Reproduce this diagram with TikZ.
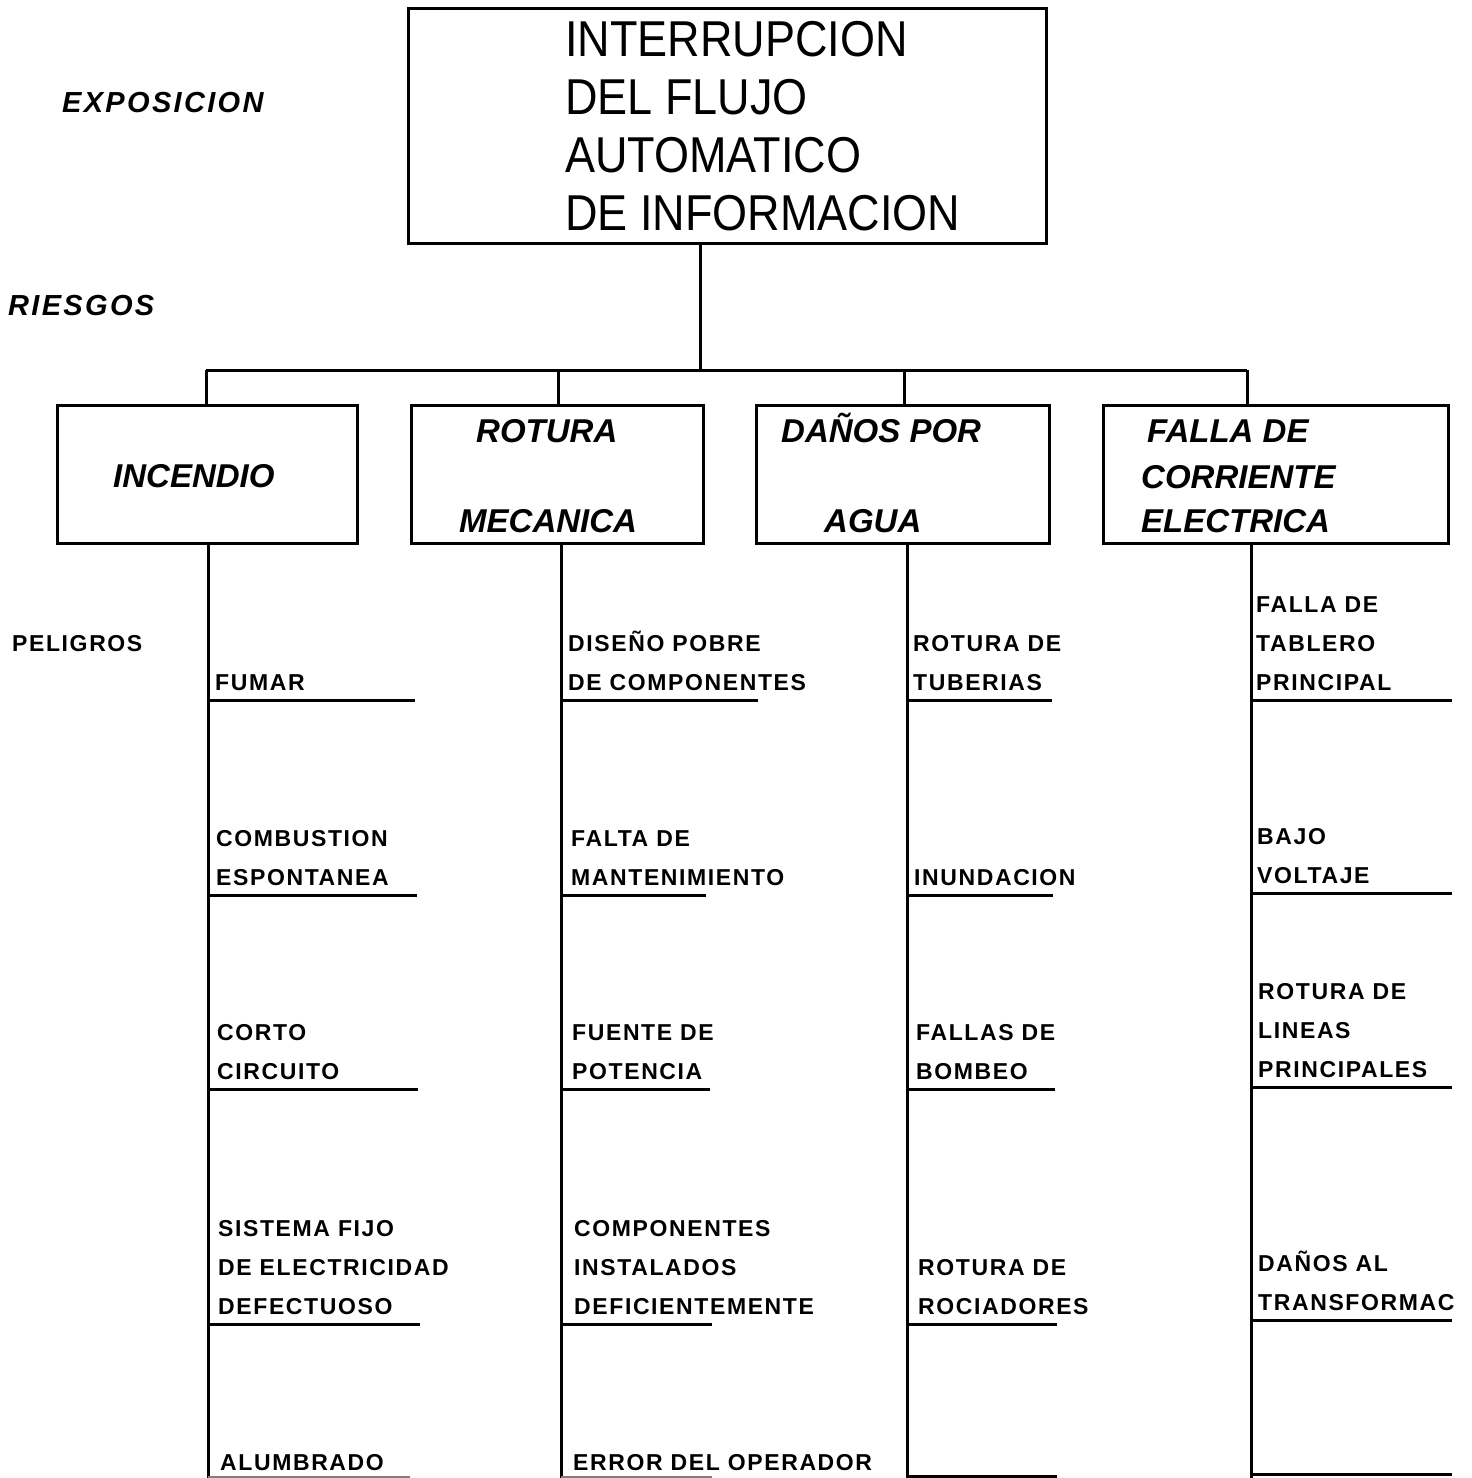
\documentclass[tikz,border=0pt]{standalone}
\usepackage{fontspec}
\setmainfont{Liberation Sans}
\newfontfamily\hazfont[LetterSpace=7]{Liberation Sans}
\newfontfamily\labfont[LetterSpace=8]{Liberation Sans}
\begin{document}
\begin{tikzpicture}[x=1pt,y=-1pt,
  ln/.style={line width=3pt},
  boxn/.style={draw, line width=3pt, rectangle, inner sep=0pt},
  ttl/.style={font=\fontsize{45}{52}\selectfont, anchor=south west, inner sep=0pt},
  rsk/.style={font=\bfseries\itshape\fontsize{33}{45}\selectfont, anchor=base west, inner sep=0pt},
  haz/.style={font=\hazfont\bfseries\fontsize{23}{39}\selectfont, align=left, anchor=south west, inner sep=0pt, text depth=0pt},
  lab/.style={font=\labfont\bfseries\itshape\fontsize{29}{35}\selectfont, anchor=base west, inner sep=0pt},
  plab/.style={font=\hazfont\bfseries\fontsize{23}{39}\selectfont, anchor=base west, inner sep=0pt}
]
\useasboundingbox (0,0) rectangle (1472,1478);

% labels
\node[lab] (expo) at (62,112) {EXPOSICION};
\node[lab] (ries) at (8,315) {RIESGOS};
\node[plab] (peli) at (12,651) {PELIGROS};

% top box
\node[boxn, minimum width=638pt, minimum height=235pt] (top) at (727,125.5) {};
\node[ttl] (toptext) at (565,248.5) {\scalebox{1}[1.12]{\begin{tabular}{@{}l@{}}INTERRUPCION\\DEL FLUJO\\AUTOMATICO\\DE INFORMACION\end{tabular}}};

% risk boxes
\node[boxn, minimum width=300pt, minimum height=138pt] (inc) at (207,474) {};
\node[boxn, minimum width=292pt, minimum height=138pt] (rot) at (557,474) {};
\node[boxn, minimum width=293pt, minimum height=138pt] (agu) at (902.5,474) {};
\node[boxn, minimum width=345pt, minimum height=138pt] (fal) at (1275.5,474) {};

\node[rsk] (incT) at (113,487) {INCENDIO};
\node[rsk] (rotT1) at (476,442) {ROTURA};
\node[rsk] (rotT2) at (459,532) {MECANICA};
\node[rsk] (aguT1) at (781,442) {DAÑOS POR};
\node[rsk] (aguT2) at (824,532) {AGUA};
\node[rsk] (falT1) at (1147,442) {FALLA DE};
\node[rsk] (falT2) at (1141,488) {CORRIENTE};
\node[rsk] (falT3) at (1141,532) {ELECTRICA};

% bus
\coordinate (bus) at (700,370);
\coordinate (b1) at (206,370);
\coordinate (b2) at (558,370);
\coordinate (b3) at (904,370);
\coordinate (b4) at (1247,370);
\draw[ln] (bus |- top.south) -- (bus);
\draw[ln] (b1) -- (b4);
\draw[ln] (b1) -- (b1 |- inc.north);
\draw[ln] (b2) -- (b2 |- rot.north);
\draw[ln] (b3) -- (b3 |- agu.north);
\draw[ln] (b4) -- (b4 |- fal.north);

% column lines
\coordinate (e1) at (208,1478);
\coordinate (e2) at (561,1478);
\coordinate (e3) at (907,1478);
\coordinate (e4) at (1251,1478);
\draw[ln] (e1 |- inc.south) -- (e1);
\draw[ln] (e2 |- rot.south) -- (e2);
\draw[ln] (e3 |- agu.south) -- (e3);
\draw[ln] (e4 |- fal.south) -- (e4);

% column 1
\node[haz] (h11) at (215,691) {FUMAR};
\node[haz] (h12) at (216,886) {COMBUSTION\\ESPONTANEA};
\node[haz] (h13) at (217,1080) {CORTO\\CIRCUITO};
\node[haz] (h14) at (218,1315) {SISTEMA FIJO\\DE ELECTRICIDAD\\DEFECTUOSO};
\node[haz] (h15) at (220,1471) {ALUMBRADO};
\draw[ln] (208,700) -- (415,700);
\draw[ln] (208,895) -- (417,895);
\draw[ln] (208,1089) -- (418,1089);
\draw[ln] (208,1324) -- (420,1324);
\draw[line width=1.4pt, gray] (208,1477) -- (410,1477);

% column 2
\node[haz] (h21) at (568,691) {DISEÑO POBRE\\DE COMPONENTES};
\node[haz] (h22) at (571,886) {FALTA DE\\MANTENIMIENTO};
\node[haz] (h23) at (572,1080) {FUENTE DE\\POTENCIA};
\node[haz] (h24) at (574,1315) {COMPONENTES\\INSTALADOS\\DEFICIENTEMENTE};
\node[haz] (h25) at (573,1471) {ERROR DEL OPERADOR};
\draw[ln] (561,700) -- (758,700);
\draw[ln] (561,895) -- (706,895);
\draw[ln] (561,1089) -- (710,1089);
\draw[ln] (561,1324) -- (712,1324);
\draw[line width=1.4pt, gray] (561,1477) -- (712,1477);

% column 3
\node[haz] (h31) at (913,691) {ROTURA DE\\TUBERIAS};
\node[haz] (h32) at (914,886) {INUNDACION};
\node[haz] (h33) at (916,1080) {FALLAS DE\\BOMBEO};
\node[haz] (h34) at (918,1315) {ROTURA DE\\ROCIADORES};
\draw[ln] (907,700) -- (1052,700);
\draw[ln] (907,895) -- (1053,895);
\draw[ln] (907,1089) -- (1055,1089);
\draw[ln] (907,1324) -- (1057,1324);
\draw[ln] (907,1476) -- (1057,1476);

% column 4
\node[haz] (h41) at (1256,691) {FALLA DE\\TABLERO\\PRINCIPAL};
\node[haz] (h42) at (1257,884) {BAJO\\VOLTAJE};
\node[haz] (h43) at (1258,1078) {ROTURA DE\\LINEAS\\PRINCIPALES};
\node[haz] (h44) at (1258,1311) {DAÑOS AL\\TRANSFORMAC};
\draw[ln] (1251,700) -- (1452,700);
\draw[ln] (1251,893) -- (1452,893);
\draw[ln] (1251,1087) -- (1452,1087);
\draw[ln] (1251,1320) -- (1452,1320);
\draw[ln] (1251,1474) -- (1452,1474);
\end{tikzpicture}
\end{document}
